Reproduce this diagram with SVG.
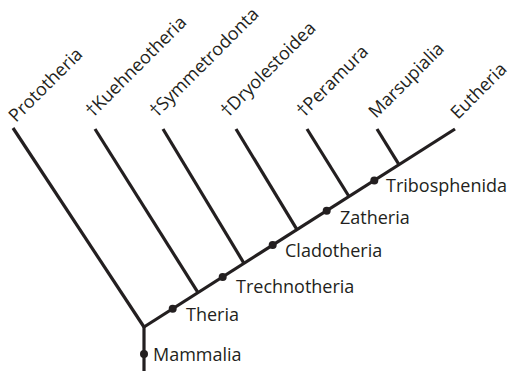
<svg xmlns="http://www.w3.org/2000/svg" width="512" height="373" viewBox="0 0 512 373">
<style>
.ln{stroke:#231f20;stroke-width:3.2;fill:none;stroke-linecap:butt}
.dot{fill:#231f20}
text{font-family:"Open Sans","Noto Sans",sans-serif;font-size:18px;fill:#231f20}
</style>
<rect width="512" height="373" fill="#fff"/>
<g id="connectors">
<line class="ln" x1="144" y1="371" x2="144" y2="327"/>
<line class="ln" x1="144" y1="327" x2="455" y2="129"/>
<line class="ln" x1="144" y1="327" x2="13" y2="128"/>
<line class="ln" x1="198" y1="292.6" x2="95" y2="129"/>
<line class="ln" x1="244" y1="263.3" x2="163" y2="129"/>
<line class="ln" x1="297" y1="229.6" x2="236" y2="129"/>
<line class="ln" x1="349" y1="196.5" x2="307" y2="129"/>
<line class="ln" x1="399" y1="164.6" x2="377" y2="129"/>
</g>
<g id="Prototheria"><text transform="translate(16,123) rotate(-45)">Prototheria</text></g>
<g id="Kuehneotheria"><text transform="translate(93,118) rotate(-45)">†Kuehneotheria</text></g>
<g id="Symmetrodonta"><text transform="translate(157,118) rotate(-45)">†Symmetrodonta</text></g>
<g id="Dryolestoidea"><text transform="translate(228,118) rotate(-45)">†Dryolestoidea</text></g>
<g id="Peramura"><text transform="translate(304,118) rotate(-45)">†Peramura</text></g>
<g id="Marsupialia"><text transform="translate(376,119) rotate(-45)">Marsupialia</text></g>
<g id="Eutheria"><text transform="translate(458,120) rotate(-45)">Eutheria</text></g>
<g id="Mammalia"><circle class="dot" cx="144" cy="354" r="4"/><text x="153" y="361">Mammalia</text></g>
<g id="Theria"><circle class="dot" cx="172.7" cy="308.7" r="4"/><text x="186" y="320.5">Theria</text></g>
<g id="Trechnotheria"><circle class="dot" cx="222.7" cy="276.9" r="4"/><text x="236" y="292.5">Trechnotheria</text></g>
<g id="Cladotheria"><circle class="dot" cx="272.7" cy="245.1" r="4"/><text x="285" y="257">Cladotheria</text></g>
<g id="Zatheria"><circle class="dot" cx="326.7" cy="210.7" r="4"/><text x="340" y="223.5">Zatheria</text></g>
<g id="Tribosphenida"><circle class="dot" cx="374.3" cy="180.4" r="4"/><text x="386" y="191.5">Tribosphenida</text></g>
</svg>
